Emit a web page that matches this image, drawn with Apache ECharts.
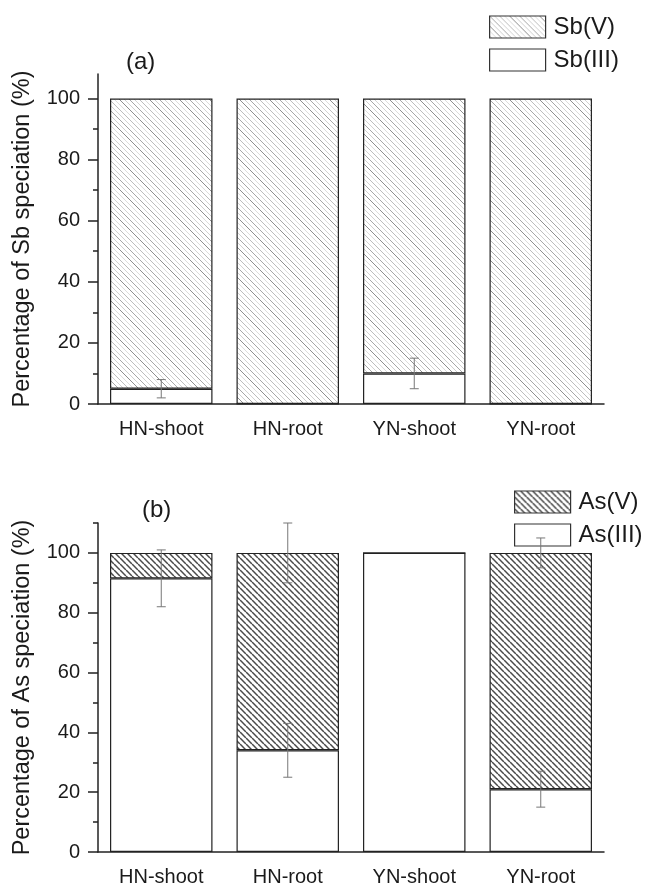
<!DOCTYPE html>
<html>
<head>
<meta charset="utf-8">
<script src="https://cdn.jsdelivr.net/npm/echarts@6/dist/echarts.min.js"></script>
<style>
html,body{margin:0;padding:0;background:#fff;}
#chart{width:646px;height:887px;}
</style>
</head>
<body>
<div id="chart"></div>
<script>
// ---- data ----
const categories = ['HN-shoot', 'HN-root', 'YN-shoot', 'YN-root'];
// panel (a) Sb speciation (%)
const sbIII = [5, 0, 10, 0];
const sbV = [95, 100, 90, 100];
const sbIIIErr = [3, null, 5, null];
const sbVErr = [null, null, null, null];
// panel (b) As speciation (%)
const asIII = [91.5, 34, 100, 21];
const asV = [8.5, 66, 0, 79];
const asIIIErr = [9.5, 9, null, 6];
const asVErr = [null, 10, null, 5];
// tick labels
const yMajorTicks = [0, 20, 40, 60, 80, 100];
const yMinorTicksA = [10, 30, 50, 70, 90];
const yMinorTicksB = [10, 30, 50, 70, 90, 110];

// ---- hatch patterns ----
function hatch(spacing, colors, lw) {
  const n = colors.length;
  const s = spacing * n;
  const c = document.createElement('canvas');
  c.width = s; c.height = s;
  const g = c.getContext('2d');
  g.fillStyle = '#ffffff';
  g.fillRect(0, 0, s, s);
  g.lineWidth = lw;
  for (let i = 0; i < n; i++) {
    g.strokeStyle = colors[i];
    for (let k = -1; k <= 1; k++) {
      const x0 = i * spacing + k * s;
      g.beginPath();
      g.moveTo(x0, 0);
      g.lineTo(x0 + s, s);
      g.stroke();
    }
  }
  return { image: c, repeat: 'repeat' };
}
const hatchA = hatch(5, ['#a6a6a6', '#d2d2d2', '#bcbcbc', '#dcdcdc', '#8e8e8e', '#cfcfcf'], 1);
const hatchB = hatch(6, ['#4a4a4a'], 1.5);

const FONT = '"Liberation Sans", Arial, sans-serif';
const TXT = '#1a1a1a';

function errData(base, top, err, stackTop) {
  const out = [];
  for (let i = 0; i < categories.length; i++) {
    if (err[i] == null) continue;
    const center = stackTop ? base[i] + top[i] : base[i];
    out.push([i, center, err[i]]);
  }
  return out;
}

function errSeries(xi, yi, data) {
  return {
    type: 'custom',
    xAxisIndex: xi, yAxisIndex: yi,
    z: 10,
    silent: true,
    data: data,
    renderItem: function (params, api) {
      const x = api.value(0), c = api.value(1), e = api.value(2);
      const p1 = api.coord([x, c + e]);
      const p2 = api.coord([x, c - e]);
      const hw = 4.5;
      const st = { stroke: '#777', lineWidth: 1, fill: null };
      return {
        type: 'group',
        children: [
          { type: 'line', shape: { x1: p1[0], y1: p1[1], x2: p2[0], y2: p2[1] }, style: st },
          { type: 'line', shape: { x1: p1[0] - hw, y1: p1[1], x2: p1[0] + hw, y2: p1[1] }, style: st },
          { type: 'line', shape: { x1: p2[0] - hw, y1: p2[1], x2: p2[0] + hw, y2: p2[1] }, style: st }
        ]
      };
    }
  };
}

function xMain(gi) {
  return {
    type: 'category', gridIndex: gi, data: categories, position: 'bottom',
    axisLine: { lineStyle: { color: '#222', width: 1.5 } },
    axisTick: { alignWithLabel: true, length: 10, lineStyle: { color: '#222', width: 1.5 } },
    axisLabel: { color: TXT, fontSize: 20, fontFamily: FONT, margin: 15 }
  };
}
function xMinor(gi) {
  return {
    type: 'category', gridIndex: gi, data: categories, position: 'bottom',
    axisLine: { show: false },
    axisTick: { length: 5, lineStyle: { color: '#222', width: 1.5 } },
    axisLabel: { show: false }
  };
}
function yMain(gi, max, name) {
  return {
    type: 'value', gridIndex: gi, min: 0, max: max, position: 'left',
    name: name, nameLocation: 'middle', nameGap: 63,
    nameTextStyle: { color: TXT, fontSize: 23.5, fontFamily: FONT },
    splitLine: { show: false },
    axisLine: { show: true, lineStyle: { color: '#222', width: 1.5 } },
    axisTick: { show: true, length: 10, customValues: yMajorTicks, lineStyle: { color: '#222', width: 1.5 } },
    axisLabel: { color: TXT, fontSize: 20, fontFamily: FONT, margin: 18, customValues: yMajorTicks }
  };
}
function yMinor(gi, max, ticks) {
  return {
    type: 'value', gridIndex: gi, min: 0, max: max, position: 'left',
    splitLine: { show: false },
    axisLine: { show: false },
    axisTick: { show: true, length: 5, customValues: ticks, lineStyle: { color: '#222', width: 1.5 } },
    axisLabel: { show: false }
  };
}

function barSeries(name, data, xi, yi, stack, color) {
  return {
    name: name, type: 'bar', stack: stack, xAxisIndex: xi, yAxisIndex: yi,
    data: data, barWidth: '81%',
    itemStyle: { color: color, borderColor: '#222', borderWidth: 1.2 },
    emphasis: { disabled: true }
  };
}

const legendBase = {
  orient: 'vertical', itemWidth: 56, itemHeight: 22, itemGap: 9, padding: 0,
  icon: 'rect', selectedMode: false,
  itemStyle: { borderColor: '#333', borderWidth: 1.2 },
  textStyle: { color: TXT, fontSize: 24, fontFamily: FONT, padding: [0, 0, 0, 3] }
};

const option = {
  animation: false,
  backgroundColor: '#ffffff',
  title: [
    { text: '(a)', left: 126, top: 50, padding: 0, textStyle: { color: TXT, fontSize: 24, fontWeight: 'normal', fontFamily: FONT } },
    { text: '(b)', left: 142, top: 498, padding: 0, textStyle: { color: TXT, fontSize: 24, fontWeight: 'normal', fontFamily: FONT } }
  ],
  legend: [
    Object.assign({}, legendBase, { left: 489, top: 15, data: ['Sb(V)', 'Sb(III)'] }),
    Object.assign({}, legendBase, { left: 514, top: 490, data: ['As(V)', 'As(III)'] })
  ],
  grid: [
    { left: 98, width: 506, top: 74, height: 330 },
    { left: 98, width: 506, top: 523, height: 329 }
  ],
  xAxis: [xMain(0), xMinor(0), xMain(1), xMinor(1)],
  yAxis: [
    yMain(0, 108, 'Percentage of Sb speciation (%)'),
    yMinor(0, 108, yMinorTicksA),
    yMain(1, 110, 'Percentage of As speciation (%)'),
    yMinor(1, 110, yMinorTicksB)
  ],
  series: [
    barSeries('Sb(III)', sbIII, 0, 0, 'a', '#ffffff'),
    barSeries('Sb(V)', sbV, 0, 0, 'a', hatchA),
    barSeries('As(III)', asIII, 2, 2, 'b', '#ffffff'),
    barSeries('As(V)', asV, 2, 2, 'b', hatchB),
    errSeries(0, 0, errData(sbIII, sbV, sbIIIErr, false).concat(errData(sbIII, sbV, sbVErr, true))),
    errSeries(2, 2, errData(asIII, asV, asIIIErr, false).concat(errData(asIII, asV, asVErr, true)))
  ]
};

const chart = echarts.init(document.getElementById('chart'), null, { renderer: 'canvas' });
chart.setOption(option);
</script>
</body>
</html>
